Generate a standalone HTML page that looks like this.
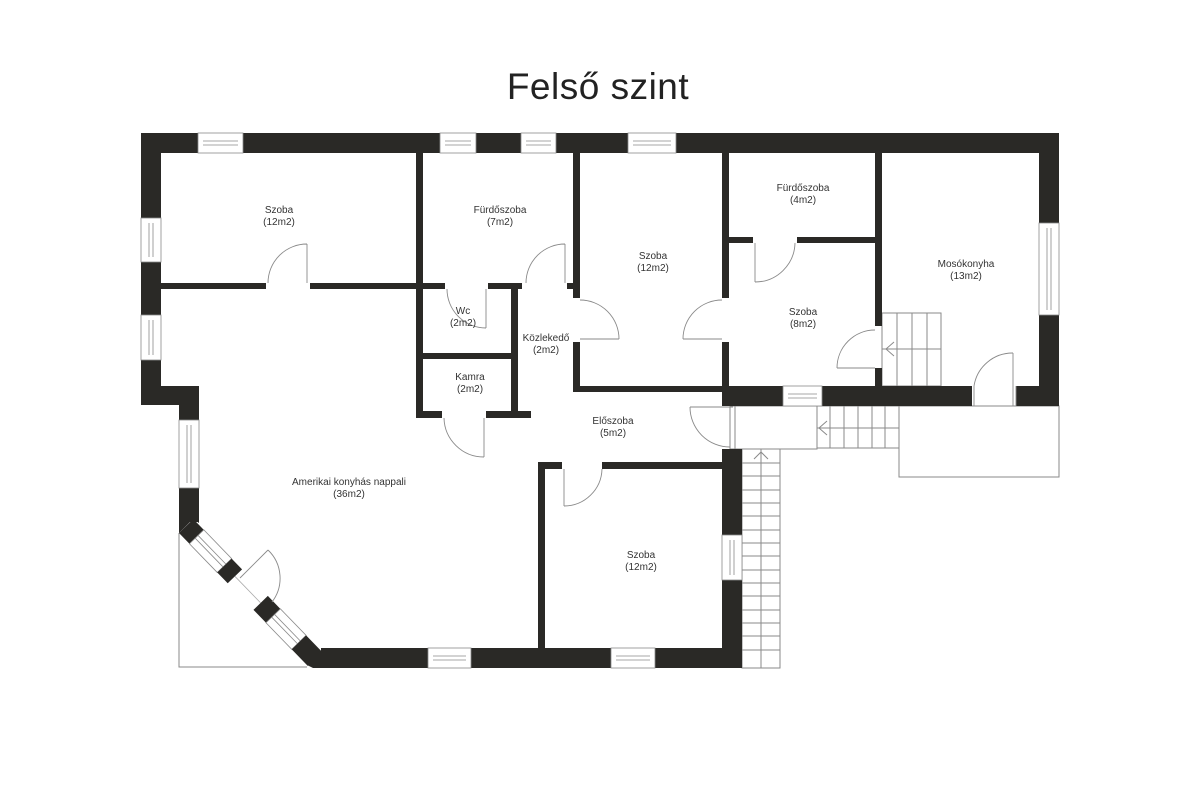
<!DOCTYPE html>
<html><head><meta charset="utf-8"><style>
html,body{margin:0;padding:0;background:#fff;}
svg{display:block;}
text{font-family:"Liberation Sans",sans-serif;fill:#333;}
</style></head><body>
<svg width="1200" height="800" viewBox="0 0 1200 800" xmlns="http://www.w3.org/2000/svg">
<rect width="1200" height="800" fill="#fff"/>
<text x="598" y="99" font-size="37" text-anchor="middle" style="font-weight:300;fill:#222;letter-spacing:0.5px">Felső szint</text>

<!-- thin outlines: porch, stairs, landing -->
<g fill="none" stroke="#8a8a8a" stroke-width="1">
  <polyline points="179,533 179,667 307,667"/>
  <rect x="899" y="406" width="160" height="71"/>
  <!-- landing -->
  <rect x="730" y="406" width="87" height="43"/>
  <line x1="735" y1="406" x2="735" y2="449"/>
  <!-- horizontal stair -->
  <rect x="817" y="406" width="82" height="42"/>
  <line x1="817" y1="428" x2="899" y2="428"/>
  <line x1="830" y1="406" x2="830" y2="448"/><line x1="844" y1="406" x2="844" y2="448"/>
  <line x1="858" y1="406" x2="858" y2="448"/><line x1="872" y1="406" x2="872" y2="448"/>
  <line x1="885" y1="406" x2="885" y2="448"/>
  <polyline points="827,421 819,428 827,435"/>
  <!-- vertical stair -->
  <rect x="742" y="449" width="38" height="219"/>
  <line x1="761" y1="449" x2="761" y2="668"/>
  <line x1="742" y1="463" x2="780" y2="463"/><line x1="742" y1="476" x2="780" y2="476"/>
  <line x1="742" y1="490" x2="780" y2="490"/><line x1="742" y1="503" x2="780" y2="503"/>
  <line x1="742" y1="516" x2="780" y2="516"/><line x1="742" y1="530" x2="780" y2="530"/>
  <line x1="742" y1="543" x2="780" y2="543"/><line x1="742" y1="556" x2="780" y2="556"/>
  <line x1="742" y1="570" x2="780" y2="570"/><line x1="742" y1="583" x2="780" y2="583"/>
  <line x1="742" y1="596" x2="780" y2="596"/><line x1="742" y1="610" x2="780" y2="610"/>
  <line x1="742" y1="623" x2="780" y2="623"/><line x1="742" y1="636" x2="780" y2="636"/>
  <line x1="742" y1="650" x2="780" y2="650"/>
  <polyline points="754,459 761,452 768,459"/>
  <!-- inner stair in Mosokonyha -->
  <rect x="882" y="313" width="59" height="73"/>
  <line x1="882" y1="349" x2="941" y2="349"/>
  <line x1="897" y1="313" x2="897" y2="386"/><line x1="912" y1="313" x2="912" y2="386"/>
  <line x1="927" y1="313" x2="927" y2="386"/>
  <polyline points="894,342 886,349 894,356"/>
</g>

<!-- walls -->
<g fill="#2a2926">
  <!-- top -->
  <rect x="141" y="133" width="57" height="20"/>
  <rect x="243" y="133" width="197" height="20"/>
  <rect x="476" y="133" width="45" height="20"/>
  <rect x="556" y="133" width="72" height="20"/>
  <rect x="676" y="133" width="383" height="20"/>
  <!-- left -->
  <rect x="141" y="133" width="20" height="85"/>
  <rect x="141" y="262" width="20" height="53"/>
  <rect x="141" y="360" width="20" height="45"/>
  <rect x="141" y="386" width="58" height="19"/>
  <rect x="179" y="386" width="20" height="34"/>
  <rect x="179" y="488" width="20" height="34"/>
  <polygon points="179,520 199,520 199,523 193,519 179,533"/>
  <!-- right -->
  <rect x="1039" y="133" width="20" height="90"/>
  <rect x="1039" y="315" width="20" height="91"/>
  <rect x="1016" y="386" width="43" height="20"/>
  <!-- bottom -->
  <polygon points="307,665 321,651 321,648 428,648 428,668 313,668"/>
  <rect x="471" y="648" width="140" height="20"/>
  <rect x="655" y="648" width="87" height="20"/>
  <!-- right of lower Szoba -->
  <rect x="722" y="449" width="20" height="86"/>
  <rect x="722" y="580" width="20" height="88"/>
  <!-- lower Szoba -->
  <rect x="538" y="462" width="7" height="186"/>
  <rect x="538" y="462" width="24" height="7"/>
  <rect x="602" y="462" width="120" height="7"/>
  <!-- interior -->
  <rect x="161" y="283" width="105" height="6"/>
  <rect x="310" y="283" width="135" height="6"/>
  <rect x="488" y="283" width="34" height="6"/>
  <rect x="567" y="283" width="13" height="6"/>
  <rect x="416" y="153" width="7" height="265"/>
  <rect x="511" y="289" width="7" height="129"/>
  <rect x="423" y="353" width="88" height="6"/>
  <rect x="416" y="411" width="26" height="7"/>
  <rect x="486" y="411" width="45" height="7"/>
  <rect x="573" y="153" width="7" height="145"/>
  <rect x="573" y="342" width="7" height="50"/>
  <rect x="573" y="386" width="149" height="6"/>
  <rect x="722" y="153" width="7" height="145"/>
  <rect x="722" y="342" width="7" height="44"/>
  <rect x="722" y="386" width="61" height="20"/>
  <rect x="822" y="386" width="150" height="20"/>
  <rect x="729" y="237" width="24" height="6"/>
  <rect x="797" y="237" width="79" height="6"/>
  <rect x="875" y="153" width="7" height="173"/>
  <rect x="875" y="368" width="7" height="18"/>
</g>

<!-- diagonal wall -->
<g transform="translate(179,533) rotate(45.9)">
  <rect x="0" y="-20" width="15" height="20" fill="#2a2926"/>
  <rect x="15" y="-20" width="40" height="20" fill="#fff" stroke="#8a8a8a" stroke-width="0.8"/>
  <line x1="15" y1="-12" x2="55" y2="-12" stroke="#8a8a8a" stroke-width="0.8"/>
  <line x1="15" y1="-8" x2="55" y2="-8" stroke="#8a8a8a" stroke-width="0.8"/>
  <rect x="55" y="-20" width="15" height="20" fill="#2a2926"/>
  <rect x="107" y="-20" width="18" height="20" fill="#2a2926"/>
  <rect x="125" y="-20" width="37" height="20" fill="#fff" stroke="#8a8a8a" stroke-width="0.8"/>
  <line x1="125" y1="-12" x2="162" y2="-12" stroke="#8a8a8a" stroke-width="0.8"/>
  <line x1="125" y1="-8" x2="162" y2="-8" stroke="#8a8a8a" stroke-width="0.8"/>
  <rect x="162" y="-20" width="23" height="20" fill="#2a2926"/>
  <line x1="70" y1="-10" x2="107" y2="-10" stroke="#aaa" stroke-width="0.8"/>
</g>

<!-- windows -->
<g fill="#fff" stroke="#8a8a8a" stroke-width="0.8">
  <rect x="198" y="133" width="45" height="20"/><rect x="440" y="133" width="36" height="20"/>
  <rect x="521" y="133" width="35" height="20"/><rect x="628" y="133" width="48" height="20"/>
  <rect x="141" y="218" width="20" height="44"/><rect x="141" y="315" width="20" height="45"/>
  <rect x="179" y="420" width="20" height="68"/>
  <rect x="1039" y="223" width="20" height="92"/>
  <rect x="428" y="648" width="43" height="20"/><rect x="611" y="648" width="44" height="20"/>
  <rect x="722" y="535" width="20" height="45"/>
  <rect x="783" y="386" width="39" height="20"/>
</g>
<g fill="none" stroke="#8a8a8a" stroke-width="0.8">
  <path d="M203 141H238M203 145H238M445 141H471M445 145H471M526 141H551M526 145H551M633 141H671M633 145H671"/>
  <path d="M149 223V257M153 223V257M149 320V355M153 320V355M187 425V483M191 425V483"/>
  <path d="M1047 228V310M1051 228V310M433 656H466M433 660H466M616 656H650M616 660H650"/>
  <path d="M730 540V575M734 540V575M788 394H817M788 398H817"/>
</g>

<!-- doors -->
<g fill="none" stroke="#8a8a8a" stroke-width="0.9">
  <path d="M307 283V244M268 283A39 39 0 0 1 307 244"/>
  <path d="M565 283V244M526 283A39 39 0 0 1 565 244"/>
  <path d="M486 289V328M447 289A39 39 0 0 0 486 328"/>
  <path d="M484 418V457M444 418A40 40 0 0 0 484 457"/>
  <path d="M580 339H619M619 339A39 39 0 0 0 580 300"/>
  <path d="M722 339H683M683 339A39 39 0 0 1 722 300"/>
  <path d="M755 243V282M755 282A40 40 0 0 0 795 243"/>
  <path d="M875 368H837M837 368A38 38 0 0 1 875 330"/>
  <path d="M1013 386V353M974 386A39 39 0 0 1 1013 353M1013 386V406M1016 386V406M974 386V406"/>
  <path d="M690 407H733M690 407A40 40 0 0 0 730 447"/>
  <path d="M564 469V506M564 506A38 38 0 0 0 602 469"/>
  <path d="M240 578L268 550M268 550A39 39 0 0 1 272 602"/>
</g>

<!-- labels -->
<g font-size="10" text-anchor="middle">
  <text x="279" y="213">Szoba</text><text x="279" y="225">(12m2)</text>
  <text x="500" y="213">Fürdőszoba</text><text x="500" y="225">(7m2)</text>
  <text x="653" y="259">Szoba</text><text x="653" y="271">(12m2)</text>
  <text x="803" y="191">Fürdőszoba</text><text x="803" y="203">(4m2)</text>
  <text x="966" y="267">Mosókonyha</text><text x="966" y="279">(13m2)</text>
  <text x="803" y="315">Szoba</text><text x="803" y="327">(8m2)</text>
  <text x="463" y="314">Wc</text><text x="463" y="326">(2m2)</text>
  <text x="546" y="341">Közlekedő</text><text x="546" y="353">(2m2)</text>
  <text x="470" y="380">Kamra</text><text x="470" y="392">(2m2)</text>
  <text x="613" y="424">Előszoba</text><text x="613" y="436">(5m2)</text>
  <text x="349" y="485">Amerikai konyhás nappali</text><text x="349" y="497">(36m2)</text>
  <text x="641" y="558">Szoba</text><text x="641" y="570">(12m2)</text>
</g>
</svg>
</body></html>
